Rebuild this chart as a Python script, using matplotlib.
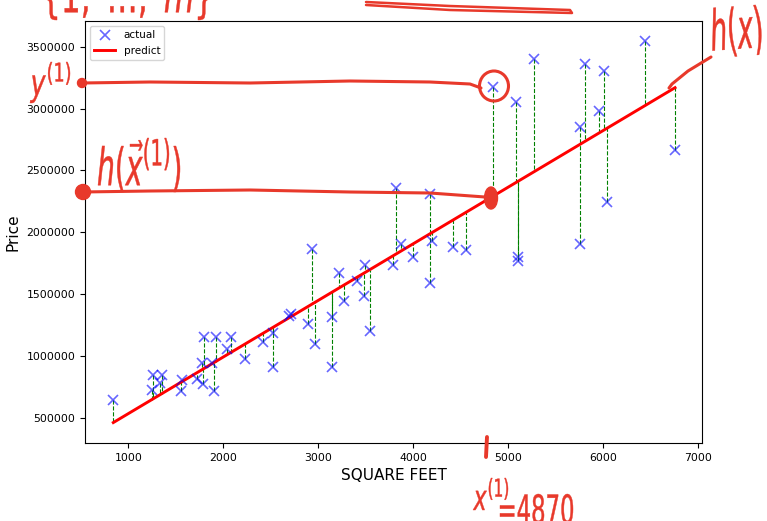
import matplotlib.pyplot as plt
import numpy as np
from matplotlib.patches import Ellipse, PathPatch
from matplotlib.textpath import TextPath
from matplotlib.transforms import Affine2D

# house data (square feet, price)
sqft = [842, 1255, 1352, 1334, 1249, 1560, 1555, 1797, 1918, 2076,
        2036, 1773, 1878, 1723, 1789, 1907, 2228, 2421, 2528, 2528,
        2692, 2713, 2931, 2895, 2965, 3221, 3267, 3144, 3149, 3404,
        3492, 3486, 3544, 3789, 3870, 3815, 4176, 4000, 4200, 4176,
        4421, 4552, 5099, 5099, 4842, 5078, 5274, 5807, 6007, 6439,
        5958, 5755, 6755, 5755, 6042]
price = [640000, 845000, 845000, 778000, 724000, 805000, 718000, 1155000, 1155000, 1155000,
         1056000, 940000, 940000, 813000, 772000, 718000, 971000, 1112000, 1185000, 912000,
         1322000, 1338000, 1862000, 1255000, 1094000, 1673000, 1445000, 1317000, 912000, 1608000,
         1737000, 1484000, 1204000, 1735000, 1905000, 2355000, 2307000, 1802000, 1929000, 1592000,
         1883000, 1856000, 1797000, 1770000, 3177000, 3055000, 3401000, 3360000, 3304000, 3546000,
         2983000, 2853000, 2665000, 1905000, 2247000]

# fitted model h(x) = theta0 + theta1 * x
theta0 = 75000
theta1 = 458

xticks = [1000, 2000, 3000, 4000, 5000, 6000, 7000]
yticks = [500000, 1000000, 1500000, 2000000, 2500000, 3000000, 3500000]

x = np.array(sqft)
y = np.array(price)
pred = theta0 + theta1 * x
xs = np.sort(x)

fig = plt.figure(figsize=(7.67, 5.21), dpi=100)
ax = fig.add_axes([0.1108, 0.1497, 0.8045, 0.81])

# residuals
ax.vlines(x, y, pred, colors='green', linestyles='--', linewidth=0.8, zorder=1)
ax.plot(x, y, 'x', color='blue', alpha=0.6, markersize=7, markeredgewidth=1.2,
        label='actual', zorder=3)
ax.plot(xs, theta0 + theta1 * xs, color='red', linewidth=2.1, label='predict', zorder=2)

ax.set_xlim(544, 7039)
ax.set_ylim(295400, 3708000)
ax.set_xticks(xticks)
ax.set_yticks(yticks)
ax.ticklabel_format(style='plain', useOffset=False)
ax.tick_params(labelsize=7.8)
ax.set_xlabel('SQUARE FEET', fontsize=11)
ax.set_ylabel('Price', fontsize=11)
ax.legend(loc='upper left', fontsize=7.5)

# handwritten notes on top, in pixel coords of the picture
ov = fig.add_axes([0, 0, 1, 1], zorder=10)
ov.set_xlim(0, 767)
ov.set_ylim(521, 0)
ov.axis('off')
hand = '#e8392b'


def stroke(pts, lw=2.2):
    p = np.array(pts, dtype=float)
    ov.plot(p[:, 0], p[:, 1], color=hand, linewidth=lw, solid_capstyle='round',
            solid_joinstyle='round', clip_on=False)


def scribble(s, x0, y0, w, h, rot=0):
    tp = TextPath((0, 0), s, size=10)
    bb = tp.get_extents()
    tr = (Affine2D().translate(-bb.x0, -bb.y0)
          .scale(w / bb.width, -h / bb.height)
          .rotate_deg(rot).translate(x0, y0))
    ov.add_patch(PathPatch(tr.transform_path(tp), fc=hand, ec=hand, lw=0.3, clip_on=False))


# y(1) line and circle
stroke([(82, 83), (150, 82), (250, 83), (350, 81), (430, 82), (470, 84), (481, 88)])
ov.add_patch(Ellipse((494, 86), 29, 30, fill=False, ec=hand, lw=2.2))
ov.add_patch(Ellipse((82, 83), 9, 9, color=hand))
# h(x(1)) line
stroke([(82, 192), (150, 191), (250, 190), (350, 192), (430, 193), (485, 197)])
ov.add_patch(Ellipse((83, 192), 15, 15, color=hand))
ov.add_patch(Ellipse((491, 198), 13, 22, color=hand))
# h(x) pointer
stroke([(669, 88), (672, 84), (688, 71), (711, 57)])
# tick at x(1)
stroke([(487, 437), (486, 457)], lw=2.8)
# top scribble
stroke([(366, 2), (450, 6), (570, 10), (572, 13), (450, 10), (366, 5)], lw=1.8)

scribble(r'$\{1,\ \ldots,\ m\}$', 45, 20, 165, 44)
scribble(r'$y^{(1)}$', 30, 103, 40, 41)
scribble(r'$h(\vec{x}^{(1)})$', 98, 192, 82, 54)
scribble(r'$h(x)$', 713, 58, 50, 50, rot=-4)
scribble(r'$x^{(1)}$', 473, 510, 35, 32)
scribble('=4870', 500, 524, 73, 30)

fig.savefig('out.png', dpi=100)
